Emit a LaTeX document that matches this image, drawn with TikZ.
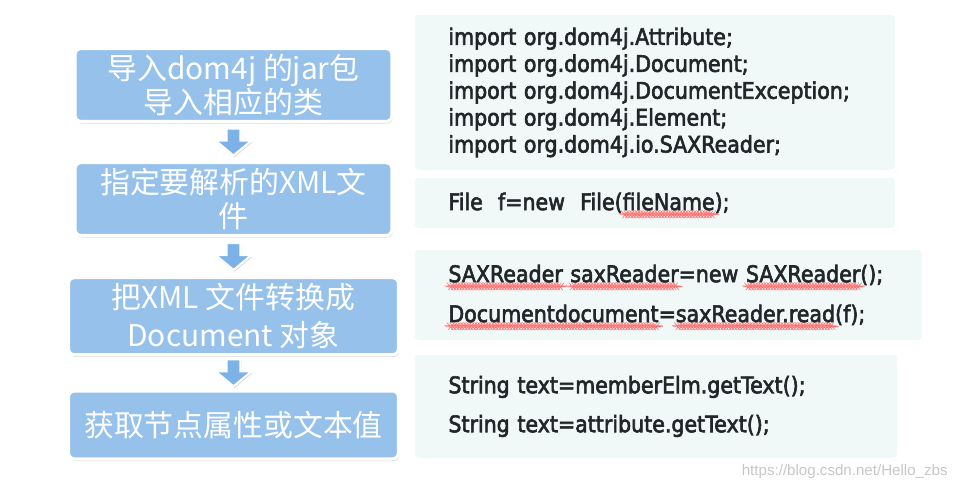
\documentclass[tikz,border=0pt]{standalone}
\usepackage{fontspec}
\setmainfont{DejaVu Sans}
\newfontfamily\cjk{Noto Sans CJK SC}
\newfontfamily\codefont{DejaVu Sans}[FakeStretch=0.9,FakeBold=2.6]
\newfontfamily\wmfont{Liberation Sans}
\usepackage{tikz}
\usetikzlibrary{positioning,calc,shadows,decorations.pathmorphing}
\definecolor{stepblue}{RGB}{150,193,235}
\definecolor{arrowblue}{RGB}{125,178,232}
\definecolor{codebg}{RGB}{240,248,248}
\definecolor{codeink}{RGB}{34,38,40}
\newlength\wavelen
\newcommand\redwave[1]{\leavevmode\settowidth\wavelen{#1}\rlap{\tikz[baseline=0pt,overlay]\draw[draw=red!55,line width=0.3pt,decorate,decoration={snake,amplitude=0.3pt,segment length=1.6pt}] (0,-2.4pt) -- (\wavelen,-2.4pt);}#1}

\begin{document}
\begin{tikzpicture}[
  stepbox/.style={draw=white,line width=1.8pt,rounded corners=0.12cm,fill=stepblue,
    minimum width=6.34cm,minimum height=1.4cm,align=center,text=white,
    font=\cjk\fontsize{17}{19}\selectfont,
    drop shadow={opacity=0.3,shadow xshift=0.6pt,shadow yshift=-1.2pt}},
  downarrow/.pic={
    \draw[fill=arrowblue,draw=white,line width=1.2pt,
      drop shadow={opacity=0.3,shadow xshift=0.6pt,shadow yshift=-1pt}]
      (-0.14,0.27) -- (-0.14,0.03) -- (-0.36,0.03) -- (0,-0.27) -- (0.36,0.03) -- (0.14,0.03) -- (0.14,0.27) -- cycle;},
  codebox/.style={draw=white,line width=1.6pt,rounded corners=0.1cm,fill=codebg,anchor=north west,
    align=left,inner xsep=0.7cm,text=codeink,
    drop shadow={opacity=0.12,shadow xshift=0.6pt,shadow yshift=-0.8pt}}]
  \useasboundingbox (0,0) rectangle (19.14,-9.78);
  \node[stepbox] (load) at (4.67,-1.70) {导入dom4j 的jar包\\导入相应的类};
  \node[stepbox,below=0.76cm of load] (file) {指定要解析的XML文\\件};
  \node[stepbox,minimum width=6.6cm,below=0.78cm of file,font=\cjk\fontsize{17}{21.5}\selectfont] (conv) {把XML 文件转换成\\Document 对象};
  \node[stepbox,minimum width=6.6cm,minimum height=1.36cm,below=0.66cm of conv] (read) {获取节点属性或文本值};
  \pic at ($(load.south)!0.5!(file.north)$) {downarrow};
  \pic at ($(file.south)!0.5!(conv.north)$) {downarrow};
  \pic at ($(conv.south)!0.5!(read.north)$) {downarrow};
  \node[codebox,text width=8.26cm,minimum height=3.16cm,font=\codefont\fontsize{13}{15.3}\selectfont] (imports) at (8.24,-0.24)
    {import org.dom4j.Attribute;\\import org.dom4j.Document;\\import org.dom4j.DocumentException;\\import org.dom4j.Element;\\import org.dom4j.io.SAXReader;};
  \node[codebox,text width=8.26cm,minimum height=1.06cm,font=\codefont\fontsize{13}{15.3}\selectfont] (fnew) at (8.24,-3.50)
    {File\ \ f=new\ \ File(\redwave{fileName});};
  \node[codebox,text width=8.8cm,minimum height=1.86cm,font=\codefont\fontsize{13}{22.7}\selectfont] (sax) at (8.24,-4.94)
    {\redwave{SAXReader} \redwave{saxReader}=new \redwave{SAXReader}();\\\redwave{Documentdocument}=\redwave{saxReader.read}(f);};
  \node[codebox,text width=8.3cm,minimum height=2.12cm,font=\codefont\fontsize{13}{22.2}\selectfont] (text) at (8.24,-7.04)
    {String text=memberElm.getText();\\String text=attribute.getText();\\[0.25cm]};
  \node[anchor=east,text=black!22,font=\wmfont\fontsize{8.6}{10}\selectfont,inner sep=0pt] (mark) at (18.96,-9.44) {https://blog.csdn.net/Hello\_zbs};
\end{tikzpicture}
\end{document}
